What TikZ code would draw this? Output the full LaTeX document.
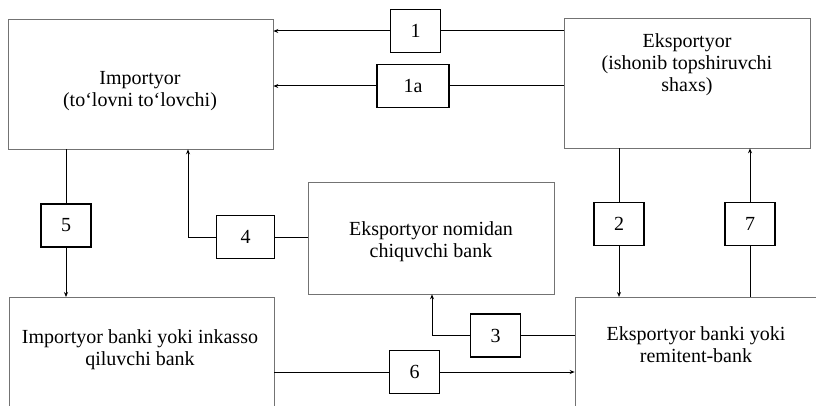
\documentclass[tikz,border=0pt]{standalone}
\usepackage{fontspec}
\setmainfont{Liberation Serif}
\usepackage{tikz}
\usetikzlibrary{positioning}
\usetikzlibrary{arrows.meta}

\begin{document}
\begin{tikzpicture}[x=1pt, y=-1pt,
  bigbox/.style = {draw=black!55, line width=0.6pt, inner sep=0pt},
  boxtext/.style = {align=center, font=\fontsize{20}{22}\selectfont, inner sep=0pt},
  numbox/.style = {draw, line width=1.4pt, minimum width=50pt, minimum height=43pt, inner sep=0pt, font=\fontsize{20}{22}\selectfont},
  link/.style = {line width=1pt},
  >={Stealth[length=5pt, width=4pt]}]
\clip (0,0) rectangle (816,406);
% main boxes
\node[bigbox, minimum width=265pt, minimum height=130pt] (imp) at (140.5,84) {};
\node[boxtext] (imptext) at (140,91) {Importyor\\(to‘lovni to‘lovchi)};
\node[bigbox, minimum width=246pt, minimum height=130pt] (eks) at (687,83) {};
\node[boxtext] (ekstext) at (687,65) {Eksportyor\\(ishonib topshiruvchi\\shaxs)};
\node[bigbox, minimum width=246pt, minimum height=112pt] (chiq) at (431,238) {};
\node[boxtext] (chiqtext) at (431,242) {Eksportyor nomidan\\chiquvchi bank};
\node[bigbox, minimum width=265pt, minimum height=150pt, anchor=north] (impbank) at (141.5,297) {};
\node[boxtext] (impbanktext) at (140,350) {Importyor banki yoki inkasso\\qiluvchi bank};
\node[bigbox, minimum width=246pt, minimum height=150pt, anchor=north] (eksbank) at (698,297) {};
\node[boxtext] (eksbanktext) at (696,345) {Eksportyor banki yoki\\remitent-bank};
% numbered boxes
\node[numbox] (one) at (415.5,31) {1};
\node[numbox, minimum width=72pt] (onea) at (413,86) {1a};
\node[numbox] (five) at (66,225.5) {5};
\node[numbox, minimum width=58pt] (four) at (245.5,237) {4};
\node[numbox] (two) at (619,224) {2};
\node[numbox] (seven) at (750,224) {7};
\node[numbox] (three) at (495.5,335.5) {3};
\node[numbox] (six) at (414.5,372) {6};
\coordinate (bend4) at (188,0);
\coordinate (bend3) at (432,0);
% connectors
\draw[link] (eks.west |- one) -- (one);
\draw[link, ->] (one) -- (imp.east |- one);
\draw[link] (eks.west |- onea) -- (onea);
\draw[link, ->] (onea) -- (imp.east |- onea);
\draw[link] (five |- imp.south) -- (five);
\draw[link, ->] (five) -- (five |- impbank.north);
\draw[link] (chiq.west |- four) -- (four);
\draw[link, ->] (four) -| (bend4 |- imp.south);
\draw[link] (two |- eks.south) -- (two);
\draw[link, ->] (two) -- (two |- eksbank.north);
\draw[link] (seven |- eksbank.north) -- (seven);
\draw[link, ->] (seven) -- (seven |- eks.south);
\draw[link] (eksbank.west |- three) -- (three);
\draw[link, ->] (three) -| (bend3 |- chiq.south);
\draw[link] (impbank.east |- six) -- (six);
\draw[link, ->] (six) -- (eksbank.west |- six);
\end{tikzpicture}
\end{document}
